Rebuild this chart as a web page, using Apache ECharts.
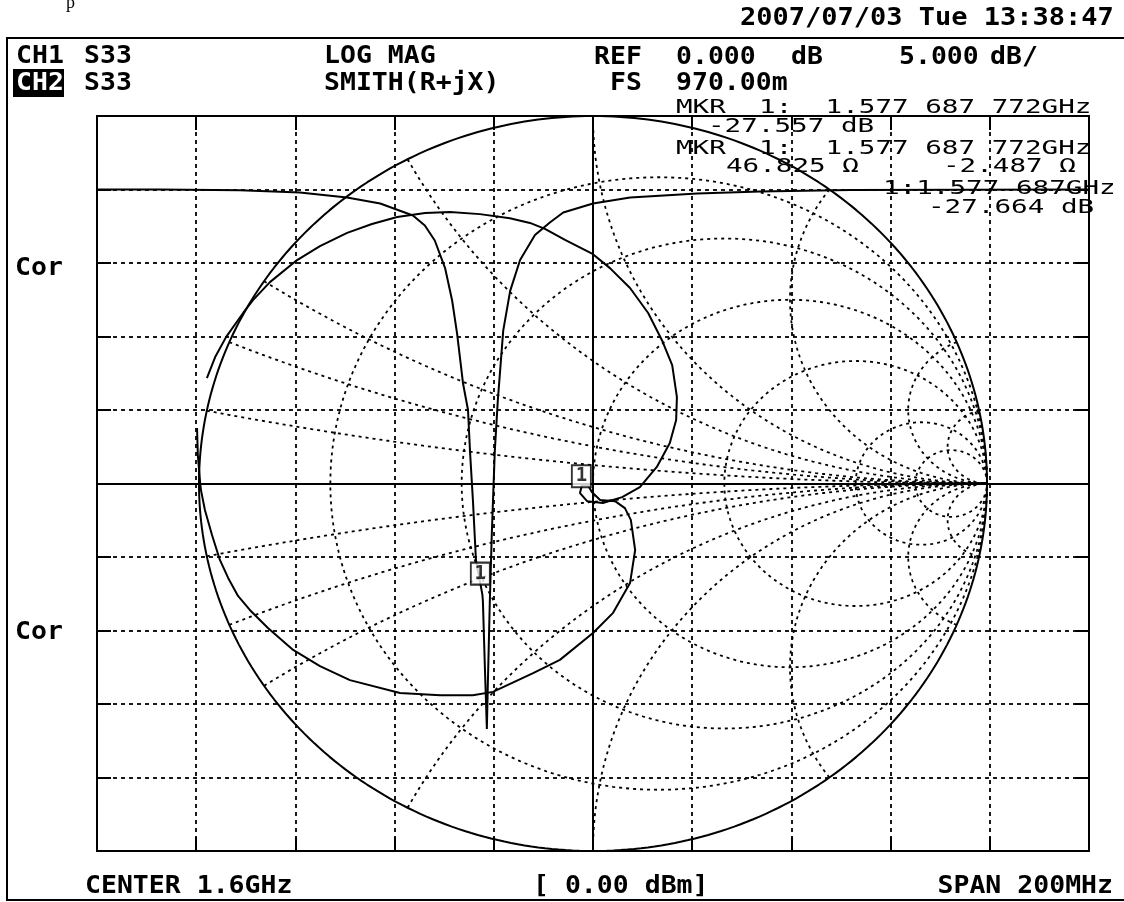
<!DOCTYPE html>
<html>
<head>
<meta charset="utf-8">
<script src="https://cdn.jsdelivr.net/npm/echarts@6/dist/echarts.min.js"></script>
<style>
  html, body { margin: 0; padding: 0; background: #fff; }
  #chart { width: 1124px; height: 902px; }
</style>
</head>
<body>
<div id="chart"></div>
<script>
// CH1 S33 log magnitude trace (frequency in MHz, magnitude in dB)
const freqMHz = [1500, 1512.7, 1528.8, 1540.9, 1550.4, 1557.1, 1563.7, 1566.1, 1568.1, 1570.2,
  1571.6, 1572.6, 1573.8, 1574.8, 1575.2, 1575.8, 1576.4, 1577.7, 1577.8, 1578.2,
  1578.6, 1578.8, 1579.2, 1579.6, 1580.2, 1580.8, 1581.9, 1583.3, 1585.3, 1588.3,
  1591.3, 1594.0, 1600, 1607.5, 1621.0, 1633.7, 1651.8, 1700];
const magDb = [0, 0, -0.05, -0.2, -0.54, -0.95, -1.77, -2.45, -3.47, -5.37,
  -7.55, -9.8, -13.2, -15.0, -17.8, -21.2, -25.2, -27.56, -28.0, -32.5,
  -36.7, -33.6, -28.0, -23.4, -17.8, -14.4, -9.6, -6.9, -4.8, -3.1,
  -2.24, -1.56, -0.95, -0.54, -0.27, -0.14, -0.03, 0];

// CH2 S33 smith trace (reflection coefficient, real / imaginary)
const smithRe = [-0.980, -0.959, -0.931, -0.888, -0.863, -0.820, -0.751, -0.693, -0.624, -0.561,
  -0.497, -0.426, -0.363, -0.287, -0.211, -0.160, -0.122, -0.071, 0, 0.043,
  0.094, 0.140, 0.175, 0.201, 0.213, 0.211, 0.195, 0.162, 0.119, 0.074,
  0.025, -0.015, -0.033, -0.028, -0.013, -0.003, 0.018, 0.056, 0.081, 0.096,
  0.107, 0.094, 0.051, 0, -0.084, -0.152, -0.254, -0.305, -0.388, -0.490,
  -0.617, -0.693, -0.761, -0.825, -0.871, -0.901, -0.926, -0.947, -0.967, -0.985,
  -0.995, -0.997, -1.003, -1.005];
const smithIm = [0.287, 0.344, 0.399, 0.464, 0.499, 0.548, 0.608, 0.646, 0.682, 0.706,
  0.725, 0.736, 0.739, 0.733, 0.722, 0.709, 0.693, 0.663, 0.624, 0.586,
  0.532, 0.464, 0.390, 0.322, 0.235, 0.173, 0.110, 0.045, -0.010, -0.037,
  -0.053, -0.048, -0.026, -0.004, -0.004, -0.023, -0.045, -0.048, -0.067, -0.099,
  -0.181, -0.271, -0.352, -0.407, -0.480, -0.516, -0.567, -0.576, -0.576, -0.570,
  -0.535, -0.497, -0.453, -0.393, -0.344, -0.306, -0.257, -0.208, -0.140, -0.072,
  -0.018, 0.001, 0.078, 0.151];

// marker 1
const markerFreq = 1577.687772;
const markerDb = -27.557;
const markerZ = [46.825, -2.487];
const z0 = 50;

// smith graticule
const resCircles = [0.2, 0.5, 1, 2, 5, 10];
const reactArcs = [0.1, 0.2, 0.3, 0.6, 1, 2, 5, 10];

function toGamma(r, x) {
  const den = (r + 1) * (r + 1) + x * x;
  return [(r * r - 1 + x * x) / den, 2 * x / den];
}

function resCircle(r) {
  const c = r / (1 + r), rad = 1 / (1 + r);
  const pts = [];
  for (let i = 0; i <= 360; i++) {
    const t = i / 360 * Math.PI * 2;
    pts.push([c + rad * Math.cos(t), rad * Math.sin(t)]);
  }
  return pts;
}

function reactArc(x) {
  const pts = [];
  for (let i = 0; i < 300; i++) {
    const t = i / 300 * Math.PI / 2;
    pts.push(toGamma(Math.tan(t), x));
  }
  pts.push([1, 0]);
  return pts;
}

const dotted = { color: '#000', width: 1.8, type: [3, 4] };
const gridLine = { color: '#000', width: 1.8, type: [4, 4] };

const series = [];
resCircles.forEach(r => {
  series.push({ type: 'line', xAxisIndex: 2, yAxisIndex: 2, data: resCircle(r), showSymbol: false, silent: true, lineStyle: dotted });
});
reactArcs.forEach(x => {
  [x, -x].forEach(v => {
    series.push({ type: 'line', xAxisIndex: 2, yAxisIndex: 2, data: reactArc(v), showSymbol: false, silent: true, lineStyle: dotted });
  });
});
// unit circle (r = 0)
series.push({ type: 'line', xAxisIndex: 2, yAxisIndex: 2, data: resCircle(0), showSymbol: false, silent: true,
  lineStyle: { color: '#000', width: 2 } });

// smith trace
series.push({ type: 'line', xAxisIndex: 2, yAxisIndex: 2, data: smithRe.map((v, i) => [v, smithIm[i]]),
  showSymbol: false, silent: true, lineStyle: { color: '#000', width: 2 }, z: 5 });

// log mag trace
series.push({ type: 'line', xAxisIndex: 0, yAxisIndex: 0, data: freqMHz.map((f, i) => [f, magDb[i]]),
  showSymbol: false, silent: true, lineStyle: { color: '#000', width: 2 }, z: 5 });

const markerBox = {
  type: 'scatter', symbol: 'rect', symbolSize: [19, 22], silent: true, z: 10,
  itemStyle: { color: '#fff', borderColor: '#000', borderWidth: 2 },
  label: { show: true, position: 'inside', formatter: '1', color: '#000', fontWeight: 'bold', fontSize: 19, fontFamily: 'DejaVu Sans Mono' }
};
series.push(Object.assign({}, markerBox, { xAxisIndex: 0, yAxisIndex: 0, data: [[markerFreq, markerDb]], symbolOffset: [-2, -21] }));
series.push(Object.assign({}, markerBox, { xAxisIndex: 2, yAxisIndex: 2,
  data: [toGamma(markerZ[0] / z0, markerZ[1] / z0)], symbolOffset: [1, -17] }));

const HEAD = 'bold 25px "DejaVu Sans Mono", monospace';
const MK = '20px "DejaVu Sans Mono", monospace';

function txt(text, x, y, font, sx, opt) {
  opt = opt || {};
  return {
    type: 'text', x: x, y: y, scaleX: sx, z: 100,
    style: {
      text: text, font: font, fill: opt.fill || '#000',
      textAlign: opt.align || 'left', align: opt.align || 'left',
      textVerticalAlign: 'middle', verticalAlign: 'middle'
    }
  };
}

const elements = [
  { type: 'rect', z: 90, shape: { x: 7, y: 38, width: 1140, height: 862 }, style: { fill: 'rgba(0,0,0,0)', stroke: '#000', lineWidth: 2 } },
  { type: 'rect', z: 95, shape: { x: 13, y: 69, width: 51, height: 28 }, style: { fill: '#000' } },
  txt('p', 66, 3, '18px "Liberation Serif", serif', 1),
  txt('2007/07/03 Tue 13:38:47', 740, 18, HEAD, 1.08),
  txt('CH1', 16, 56, HEAD, 1.06),
  txt('S33', 84, 56, HEAD, 1.06),
  txt('LOG MAG', 324, 56, HEAD, 1.06),
  txt('REF', 594, 57, HEAD, 1.06),
  txt('0.000', 676, 57, HEAD, 1.06),
  txt('dB', 791, 57, HEAD, 1.06),
  txt('5.000', 899, 57, HEAD, 1.06),
  txt('dB/', 990, 57, HEAD, 1.06),
  txt('CH2', 16, 83, HEAD, 1.06, { fill: '#fff' }),
  txt('S33', 84, 83, HEAD, 1.06),
  txt('SMITH(R+jX)', 324, 83, HEAD, 1.06),
  txt('FS', 610, 83, HEAD, 1.06),
  txt('970.00m', 676, 83, HEAD, 1.06),
  txt('MKR  1:  1.577 687 772GHz', 676, 108, MK, 1.38),
  txt('-27.557 dB', 708, 127, MK, 1.38),
  txt('MKR  1:  1.577 687 772GHz', 676, 149, MK, 1.38),
  txt('46.825 Ω', 726, 167, MK, 1.38),
  txt('-2.487 Ω', 943, 167, MK, 1.38),
  txt('1:1.577 687GHz', 883, 189, MK, 1.38),
  txt('-27.664 dB', 928, 208, MK, 1.38),
  txt('Cor', 15, 268, HEAD, 1.06),
  txt('Cor', 15, 632, HEAD, 1.06),
  txt('CENTER 1.6GHz', 85, 886, HEAD, 1.06),
  txt('[ 0.00 dBm]', 533, 886, HEAD, 1.06),
  txt('SPAN 200MHz', 1113, 886, HEAD, 1.06, { align: 'right' })
];

const tick = { show: true, inside: true, length: 14, lineStyle: { color: '#000', width: 2 } };
const rect = { left: 97, top: 116, width: 992, height: 735 };

const chart = echarts.init(document.getElementById('chart'));
chart.setOption({
  animation: false,
  backgroundColor: '#fff',
  grid: [
    Object.assign({ show: true, borderColor: '#000', borderWidth: 2, backgroundColor: 'transparent' }, rect),
    Object.assign({ show: false }, rect)
  ],
  xAxis: [
    { type: 'value', gridIndex: 0, position: 'bottom', min: 1500, max: 1700, interval: 20,
      axisLine: { show: false, onZero: false }, axisTick: tick, axisLabel: { show: false },
      splitLine: { show: true, lineStyle: gridLine } },
    { type: 'value', gridIndex: 0, position: 'top', min: 1500, max: 1700, interval: 20,
      axisLine: { show: false, onZero: false }, axisTick: tick, axisLabel: { show: false }, splitLine: { show: false } },
    { type: 'value', gridIndex: 1, min: -1.2589, max: 1.2589,
      axisLine: { show: true, onZero: true, lineStyle: { color: '#000', width: 2 } },
      axisTick: { show: false }, axisLabel: { show: false }, splitLine: { show: false } }
  ],
  yAxis: [
    { type: 'value', gridIndex: 0, position: 'left', min: -45, max: 5, interval: 5,
      axisLine: { show: false, onZero: false }, axisTick: tick, axisLabel: { show: false },
      splitLine: { show: true, lineStyle: gridLine } },
    { type: 'value', gridIndex: 0, position: 'right', min: -45, max: 5, interval: 5,
      axisLine: { show: false, onZero: false }, axisTick: tick, axisLabel: { show: false }, splitLine: { show: false } },
    { type: 'value', gridIndex: 1, min: -1, max: 1,
      axisLine: { show: true, onZero: true, lineStyle: { color: '#000', width: 2 } },
      axisTick: { show: false }, axisLabel: { show: false }, splitLine: { show: false } }
  ],
  series: series,
  graphic: { elements: elements }
});
</script>
</body>
</html>
